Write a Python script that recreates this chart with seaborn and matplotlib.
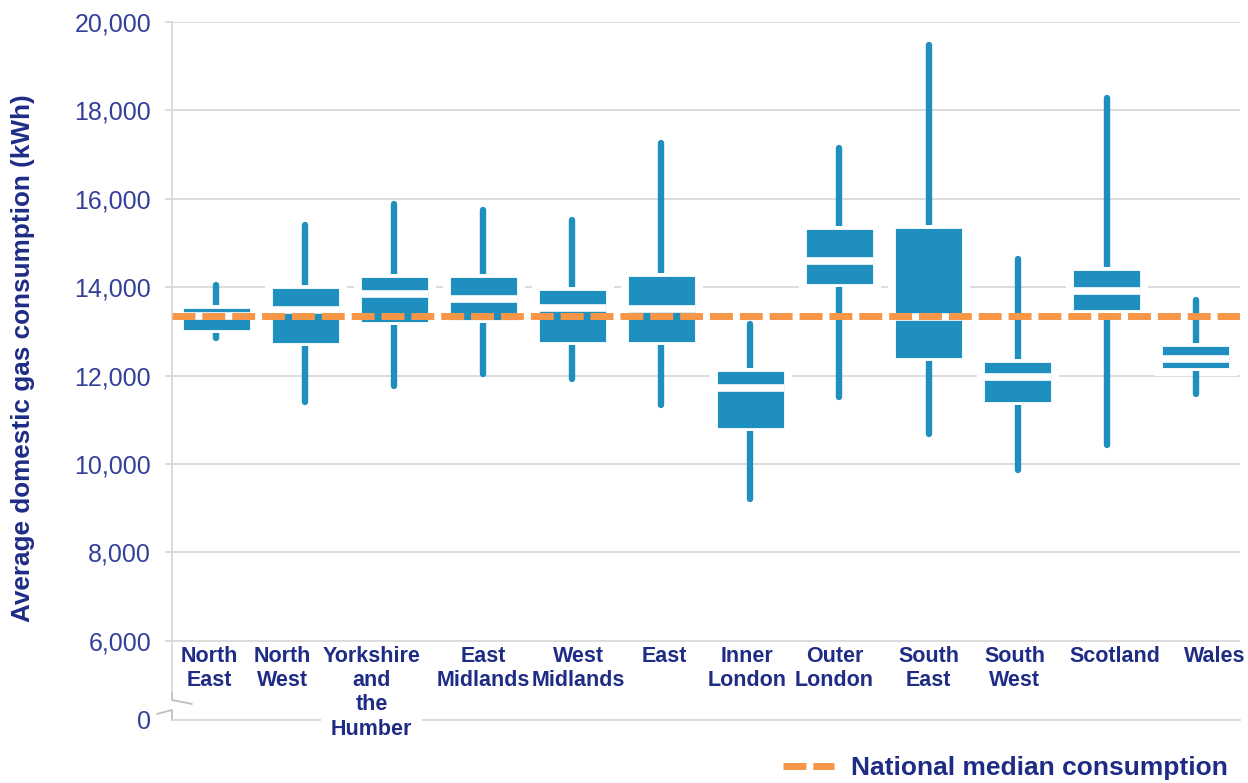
import numpy as np
import pandas as pd
import seaborn as sns
import matplotlib.pyplot as plt
from matplotlib.lines import Line2D
from matplotlib.patches import PathPatch

# data (kWh)
regions = ["North East", "North West", "Yorkshire and the Humber", "East Midlands",
           "West Midlands", "East", "Inner London", "Outer London", "South East",
           "South West", "Scotland", "Wales"]
tick_labels = ["North\nEast", "North\nWest", "Yorkshire\nand\nthe\nHumber", "East\nMidlands",
               "West\nMidlands", "East", "Inner\nLondon", "Outer\nLondon", "South\nEast",
               "South\nWest", "Scotland", "Wales"]
whisker_low = [12860, 11410, 11760, 12030, 11920, 11330, 9220, 11520, 10690, 9860, 10420, 11580]
lower_quartile = [13030, 12740, 13220, 13260, 12770, 12770, 10810, 14070, 12390, 11410, 13480, 12170]
median = [13340, 13480, 13850, 13740, 13530, 13510, 11730, 14590, 13330, 11960, 13920, 12370]
upper_quartile = [13540, 13980, 14240, 14220, 13940, 14260, 12110, 15310, 15340, 12300, 14390, 12680]
whisker_high = [14060, 15400, 15890, 15750, 15520, 17270, 13170, 17160, 19480, 14640, 18280, 13700]
national_median = 13340

y_ticks = [6000, 8000, 10000, 12000, 14000, 16000, 18000, 20000]

# styling
BLUE = "#1F8FBF"
ORANGE = "#F79646"
NAVY = "#1F2C86"
TICK_COLOR = "#34409A"
GRID = "#D9D9D9"
BREAK_BASE = 4210  # where the "0" of the broken axis sits
label_dx = [-7, -23, -23, 0, 6, 3, -3, -5, 0, -3, 8, 19]  # pixel nudges of the category labels

# five points per region -> whis=(0, 100) gives exactly these box stats
df = pd.DataFrame({
    "region": np.repeat(regions, 5),
    "kwh": np.column_stack([whisker_low, lower_quartile, median,
                            upper_quartile, whisker_high]).ravel(),
})

sns.set_style("white")
plt.rcParams["font.family"] = ["Liberation Sans", "DejaVu Sans"]

fig, ax = plt.subplots(figsize=(12.48, 7.83), dpi=100)
fig.subplots_adjust(left=0.1378, right=0.9936, top=0.9719, bottom=0.0805)

sns.boxplot(data=df, x="region", y="kwh", order=regions, whis=(0, 100), width=0.75,
            color=BLUE, saturation=1, linecolor="white", linewidth=0.6,
            showcaps=False, showfliers=False, ax=ax)

bp = ax.containers[0]
for box in bp.boxes:
    box.set_zorder(3)
    # wide white halo cuts the gridlines, narrow one separates the whiskers
    for lw, z in [(11, 1.5), (4.3, 2.5)]:
        ax.add_patch(PathPatch(box.get_path(), transform=box.get_transform(),
                               facecolor="white", edgecolor="white", linewidth=lw, zorder=z))
for w in bp.whiskers:
    w.set(color=BLUE, linewidth=4.6, solid_capstyle="round", zorder=2)
for m in bp.medians:
    m.set(color="white", linewidth=5.5, solid_capstyle="butt", zorder=3.2)

ax.axhline(national_median, color=ORANGE, lw=5, ls=(0, (3.3, 1.0)), zorder=5)

ax.set_xlim(-0.5, 11.5)
ax.set_ylim(BREAK_BASE, 20000)
ax.set_yticks([BREAK_BASE] + y_ticks)
ax.set_yticklabels(["0"] + [f"{v:,}" for v in y_ticks])
ax.set_xticks([])
ax.set_xlabel("")
ax.set_axisbelow(True)
ax.yaxis.grid(True, color=GRID, lw=1.3)
ax.tick_params(axis="y", left=True, length=5, width=1.3, color=GRID, pad=10,
               labelsize=18, labelcolor=TICK_COLOR)
ax.yaxis.get_major_ticks()[0].tick1line.set_visible(False)

for side in ["top", "right", "left"]:
    ax.spines[side].set_visible(False)
ax.spines["bottom"].set_color(GRID)
ax.spines["bottom"].set_linewidth(1.3)

# left axis line with the break marker
ax.plot([0, 0], [0.0387, 1], transform=ax.transAxes, color=GRID, lw=1.3, clip_on=False)
ax.plot([0, 0, 0.0187], [0.0387, 0.0287, 0.0229], transform=ax.transAxes,
        color="#BFBFBF", lw=1.3, clip_on=False)
ax.plot([-0.014, 0, 0], [0.0086, 0.0143, 0], transform=ax.transAxes,
        color="#BFBFBF", lw=1.3, clip_on=False)

for i, (lab, dx) in enumerate(zip(tick_labels, label_dx)):
    ax.annotate(lab, xy=(i, 0.106), xycoords=("data", "axes fraction"),
                xytext=(dx * 0.72, 0), textcoords="offset points",
                ha="center", va="top", fontsize=15.5, fontweight="bold", color=NAVY,
                linespacing=1.2, zorder=6, annotation_clip=False,
                bbox=dict(facecolor="white", edgecolor="none", pad=1))

ax.set_ylabel("Average domestic gas consumption (kWh)", fontsize=18.8,
              fontweight="bold", color=NAVY)
ax.yaxis.set_label_coords(-0.128, 0.5186)

handle = Line2D([], [], color=ORANGE, lw=5, ls=(0, (3.3, 1.0)))
leg = fig.legend([handle], ["National median consumption"], loc="center left",
                 bbox_to_anchor=(783 / 1248, 1 - 768 / 783), frameon=False,
                 handlelength=1.95, handletextpad=0.64, borderpad=0, borderaxespad=0,
                 prop=dict(weight="bold", size=19))
for t in leg.get_texts():
    t.set_color(NAVY)

fig.savefig("out.png", dpi=100)
